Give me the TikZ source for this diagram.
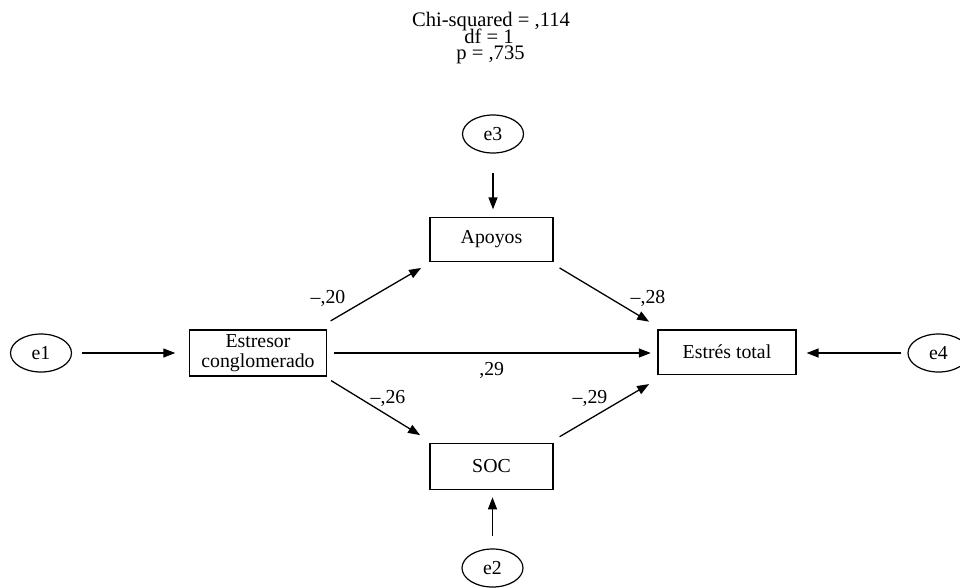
\documentclass[tikz,border=0pt]{standalone}
\usepackage{fontspec}
\setmainfont{Liberation Serif}
\usetikzlibrary{arrows.meta,shapes.geometric}
\begin{document}
\begin{tikzpicture}[x=1pt,y=-1pt,
  every node/.style={font=\fontsize{19.8}{20}\selectfont, inner sep=0pt},
  box/.style={draw, line width=1.2pt, rectangle},
  err/.style={draw, line width=1.2pt, ellipse, minimum width=61pt, minimum height=38pt},
  lab/.style={anchor=base},
  toplab/.style={anchor=base, font=\fontsize{20.6}{20}\selectfont},
  arr/.style={line width=1.3pt, -{Triangle[length=12pt,width=9pt]}}
]
\useasboundingbox (0,0) rectangle (960,587);
\clip (0,0) rectangle (960,587);

% fit statistics
\node[toplab] (t1) at (491,26.5) {Chi-squared = ,114};
\node[toplab] (t2) at (489,43.3) {df = 1};
\node[toplab] (t3) at (490.5,59.5) {p = ,735};

% observed variables
\node[box, minimum width=137pt, minimum height=46pt, align=center] (estresor) at (258,353) {Estresor\\conglomerado};
\node[box, minimum width=123pt, minimum height=44.5pt] (apoyos) at (491.5,239.5) {Apoyos};
\node[box, minimum width=123pt, minimum height=46pt] (soc) at (491.5,466.3) {SOC};
\node[box, minimum width=138pt, minimum height=44.5pt] (estres) at (727,352.2) {Estrés total};

% error terms
\node[err] (e1) at (41,353) {e1};
\node[err] (e3) at (493,134) {e3};
\node[err] (e2) at (492.5,568) {e2};
\node[err] (e4) at (938.5,353) {e4};

% error arrows
\draw[arr, shorten <=9.5pt, shorten >=13.6pt] (e1) -- (estresor.west |- e1);
\draw[arr, shorten <=6pt, shorten >=10pt] (e4) -- (estres.east |- e4);
\draw[arr, shorten <=19.7pt, shorten >=7.3pt] (e3.south) -- (e3.south |- apoyos.north);
\draw[arr, shorten <=12.3pt, shorten >=7.4pt] (e2.north) -- (e2.north |- soc.south);

% structural paths
\draw[arr] ([xshift=3.5pt,yshift=8.5pt]estresor.north east) -- ([xshift=-8.3pt,yshift=-5.6pt]apoyos.south west);
\draw[arr] ([xshift=6pt,yshift=-5.6pt]apoyos.south east) -- ([xshift=-8.3pt,yshift=7.7pt]estres.north west);
\draw[arr, shorten <=6.6pt, shorten >=6.6pt] (estresor.east) -- (estresor.east -| estres.west);
\draw[arr] ([xshift=4pt,yshift=-4pt]estresor.south east) -- ([xshift=-9.3pt,yshift=7.6pt]soc.north west);
\draw[arr] ([xshift=6pt,yshift=6pt]soc.north east) -- ([xshift=-8.3pt,yshift=-9pt]estres.south west);

% coefficients
\node[lab] (l1) at (328,303) {–,20};
\node[lab] (l2) at (648,303) {–,28};
\node[lab] (l3) at (491.7,375) {,29};
\node[lab] (l4) at (388,403) {–,26};
\node[lab] (l5) at (590,403) {–,29};
\end{tikzpicture}
\end{document}
